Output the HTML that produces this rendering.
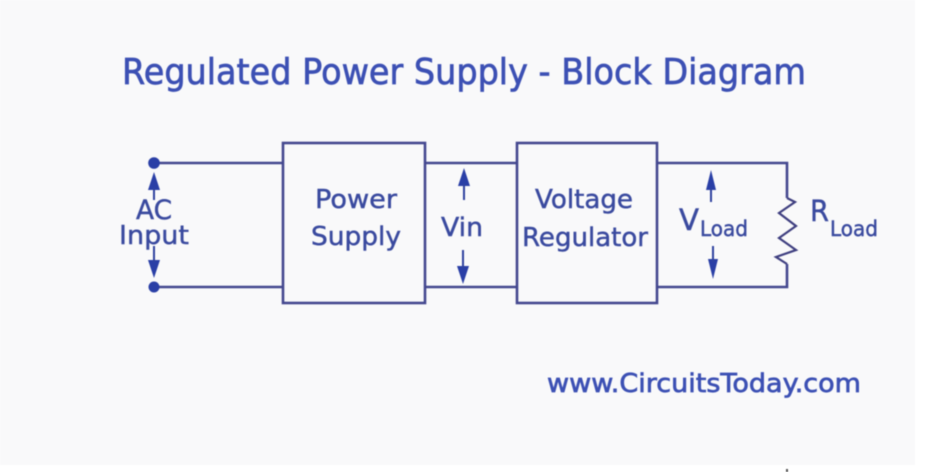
<!DOCTYPE html>
<html>
<head>
<meta charset="utf-8">
<style>
html,body{margin:0;padding:0;background:#fff;width:932px;height:472px;overflow:hidden}
svg{display:block;filter:blur(.5px)}
text{font-family:"DejaVu Sans","Liberation Sans",sans-serif;fill:#3a4a9f;stroke:#3a4a9f;stroke-width:.45px}
.h{fill:#3c50b4;stroke:#3c50b4;stroke-width:.7px}
</style>
</head>
<body>
<svg width="932" height="472" viewBox="0 0 932 472" xmlns="http://www.w3.org/2000/svg">
<rect x="0" y="0" width="932" height="472" fill="#ffffff"/>
<rect x="0" y="0" width="915" height="465" fill="#f9f9fa"/>
<g fill="none" stroke="#44488f" stroke-width="2.6">
<rect x="283" y="143" width="142" height="160"/>
<rect x="517" y="143" width="140" height="160"/>
<path d="M154 163H283M154 287H283M425 163H517M425 287H517M657 163H787V198M657 287H787V264"/>
<path d="M787 198L795 202L779 213L796 226L779 238L796 250L776 257L787 264" stroke-width="2.2" stroke="#3f3f80"/>
</g>
<g fill="#2a3fa6" stroke="none">
<circle cx="154" cy="163" r="5.8"/>
<circle cx="154" cy="287" r="5.5"/>
<path d="M154 172L160 190H148Z"/>
<path d="M154 278L160 260H148Z"/>
<path d="M464 168L470 186H458Z"/>
<path d="M463 284L469 266H457Z"/>
<path d="M711 170L716 190H706Z"/>
<path d="M713 279L718 259H708Z"/>
</g>
<g stroke="#2f429f" stroke-width="2" fill="none">
<path d="M154 188V200M154 246V262"/>
<path d="M464 184V200M463 250V268"/>
<path d="M711 188V202M713 246V262"/>
</g>
<text class="h" x="122" y="84" font-size="36" textLength="684" lengthAdjust="spacingAndGlyphs">Regulated Power Supply - Block Diagram</text>
<text x="136" y="219" font-size="27" textLength="36" lengthAdjust="spacingAndGlyphs">AC</text>
<text x="119" y="244" font-size="26" textLength="70" lengthAdjust="spacingAndGlyphs">Input</text>
<text x="315" y="208" font-size="26" textLength="82" lengthAdjust="spacingAndGlyphs">Power</text>
<text x="311" y="245" font-size="26" textLength="90" lengthAdjust="spacingAndGlyphs">Supply</text>
<text x="441" y="236" font-size="26" textLength="42" lengthAdjust="spacingAndGlyphs">Vin</text>
<text x="535" y="208" font-size="26" textLength="98" lengthAdjust="spacingAndGlyphs">Voltage</text>
<text x="522" y="246" font-size="26" textLength="126" lengthAdjust="spacingAndGlyphs">Regulator</text>
<text x="679" y="230" font-size="29" textLength="20" lengthAdjust="spacingAndGlyphs">V</text>
<text x="700" y="236" font-size="21" textLength="48" lengthAdjust="spacingAndGlyphs">Load</text>
<text x="810" y="221" font-size="29" textLength="19" lengthAdjust="spacingAndGlyphs">R</text>
<text x="830" y="236" font-size="21" textLength="48" lengthAdjust="spacingAndGlyphs">Load</text>
<text class="h" x="547" y="392" font-size="26" textLength="314" lengthAdjust="spacingAndGlyphs">www.CircuitsToday.com</text>
<rect x="786" y="469" width="2" height="3" fill="#555"/>
</svg>
</body>
</html>
